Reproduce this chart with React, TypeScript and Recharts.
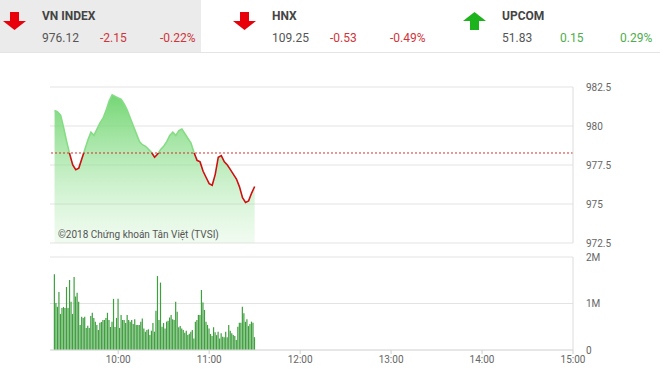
import React from 'react';
import { ComposedChart, Area, BarChart, Bar, XAxis, YAxis, CartesianGrid, ReferenceLine } from 'recharts';

// index summary strip
const indexNames = ['VN INDEX', 'HNX', 'UPCOM'];
const indexValues = ['976.12', '109.25', '51.83'];
const indexChanges = ['-2.15', '-0.53', '0.15'];
const indexPercents = ['-0.22%', '-0.49%', '0.29%'];

// VN-Index intraday, one point every 2 minutes from 9:18
const refPrice = 978.27;
const priceStartMin = 558;
const priceStepMin = 2;
const priceValues = [
  981.0, 980.9, 980.7, 979.9, 979.0, 978.2, 977.5, 977.2, 977.3, 977.9,
  978.5, 979.1, 979.6, 979.4, 979.8, 980.2, 980.5, 981.0, 981.6, 982.0,
  981.9, 981.8, 981.7, 981.4, 981.0, 980.5, 980.0, 979.5, 979.0, 978.8,
  978.7, 978.5, 978.3, 978.0, 978.2, 978.5, 978.7, 979.0, 979.4, 979.6,
  979.4, 979.7, 979.8, 979.5, 979.2, 978.9, 978.3, 977.8, 977.7, 977.1,
  976.7, 976.3, 976.2, 976.9, 978.0, 978.1, 977.7, 977.5, 977.2, 976.9,
  976.6, 976.1, 975.4, 975.1, 975.2, 975.7, 976.12,
];

// matched volume per minute (thousand shares) from 9:18
const volumeStartMin = 558;
const volumeValues = [
  1630, 1010, 930, 1250, 775, 905, 925, 905, 1355, 905,
  1505, 1040, 775, 1570, 1150, 1230, 1040, 540, 715, 690,
  715, 475, 520, 475, 730, 800, 690, 610, 540, 430,
  585, 600, 645, 645, 690, 800, 645, 495, 610, 1100,
  495, 690, 1100, 475, 755, 645, 645, 580, 755, 645,
  610, 645, 560, 660, 540, 540, 540, 610, 680, 465,
  390, 430, 445, 320, 415, 580, 395, 845, 1590, 645,
  1450, 500, 580, 465, 610, 630, 700, 755, 660, 645,
  1040, 825, 490, 515, 465, 430, 370, 415, 320, 350,
  395, 430, 250, 610, 645, 755, 755, 1290, 1020, 860,
  610, 540, 465, 345, 300, 490, 380, 320, 395, 250,
  360, 285, 275, 395, 275, 540, 415, 360, 320, 300,
  215, 500, 585, 585, 930, 790, 610, 660, 515, 560,
  610, 585, 275,
];

const timeTicks = [600, 660, 720, 780, 840, 900];
const priceTicks = [972.5, 975, 977.5, 980, 982.5];
const volumeTicks = [0, 1000, 2000];

const priceData = priceValues.map((v, i) => ({ t: priceStartMin + i * priceStepMin, price: v }));
const volumeData = volumeValues.map((v, i) => ({ t: volumeStartMin + i, vol: v }));

const fmtTime = (m: number) => `${Math.floor(m / 60)}:${String(m % 60).padStart(2, '0')}`;
const fmtVol = (v: number) => (v === 0 ? '0' : `${v / 1000}M`);

const pMax = Math.max(...priceValues);
const pMin = Math.min(...priceValues);
const splitOffset = (pMax - refPrice) / (pMax - pMin);

const tickStyle = { fill: '#666', fontSize: 10, fontFamily: 'Roboto, Arial, sans-serif' };

const Arrow = ({ up }: { up: boolean }) => (
  <svg width={23} height={18} style={{ position: 'absolute', left: 3, top: 12 }}>
    <path
      d={up ? 'M7 18 H16 V9 H23 L11.5 0 L0 9 H7 Z' : 'M7 0 H16 V9 H23 L11.5 18 L0 9 H7 Z'}
      fill={up ? '#1db31d' : '#e8000b'}
    />
  </svg>
);

export default function App() {
  return (
    <div
      style={{
        position: 'absolute',
        left: 0,
        top: 0,
        width: 660,
        height: 369,
        background: '#fff',
        fontFamily: 'Roboto, Arial, sans-serif',
        overflow: 'hidden',
      }}
    >
      {/* summary strip */}
      <div style={{ position: 'absolute', left: 0, top: 0, width: 201, height: 53, background: '#ebebeb' }} />
      <div style={{ position: 'absolute', left: 0, top: 52, width: 660, height: 1, background: '#e4e4e4' }} />
      {indexNames.map((name, i) => {
        const up = !indexChanges[i].startsWith('-');
        const color = up ? '#4cae4c' : '#d0343a';
        return (
          <div key={name} style={{ position: 'absolute', left: i * 230, top: 0, width: 230, height: 52 }}>
            <Arrow up={up} />
            <div style={{ position: 'absolute', left: 42, top: 9, fontSize: 12, fontWeight: 700, color: '#444' }}>{name}</div>
            <div style={{ position: 'absolute', left: 42, top: 31, fontSize: 12, color: '#555' }}>{indexValues[i]}</div>
            <div style={{ position: 'absolute', left: 100, top: 31, fontSize: 12, color }}>{indexChanges[i]}</div>
            <div style={{ position: 'absolute', left: 160, top: 31, fontSize: 12, color }}>{indexPercents[i]}</div>
          </div>
        );
      })}

      {/* price */}
      <div style={{ position: 'absolute', left: 0, top: 80 }}>
        <ComposedChart width={660} height={170} data={priceData} margin={{ top: 7, right: 0, bottom: 7, left: 50 }}>
          <defs>
            <linearGradient id="priceFill" x1="0" y1="0" x2="0" y2="1">
              <stop offset="0%" stopColor="#6cd46c" stopOpacity={0.95} />
              <stop offset="100%" stopColor="#b8ecb8" stopOpacity={0.2} />
            </linearGradient>
            <linearGradient id="priceStroke" x1="0" y1="0" x2="0" y2="1">
              <stop offset={splitOffset} stopColor="#86dc86" />
              <stop offset={splitOffset} stopColor="#cc1111" />
            </linearGradient>
          </defs>
          <CartesianGrid vertical={false} stroke="#e3e3e3" />
          <XAxis dataKey="t" type="number" domain={[555, 900]} ticks={timeTicks} hide />
          <YAxis
            orientation="right"
            domain={[972.5, 982.5]}
            ticks={priceTicks}
            width={87}
            axisLine={{ stroke: '#dcdcdc' }}
            tickLine={false}
            tickMargin={7}
            tick={tickStyle}
          />
          <Area
            type="linear"
            dataKey="price"
            stroke="url(#priceStroke)"
            strokeWidth={1.6}
            fill="url(#priceFill)"
            fillOpacity={1}
            dot={false}
            activeDot={false}
            isAnimationActive={false}
          />
          <ReferenceLine y={refPrice} stroke="#d23030" strokeDasharray="2 2" />
        </ComposedChart>
      </div>
      <div style={{ position: 'absolute', left: 58, top: 229, fontSize: 10, color: '#555', fontFamily: 'Roboto, Arial, sans-serif' }}>
        ©2018 Chứng khoán Tân Việt (TVSI)
      </div>

      {/* volume */}
      <div style={{ position: 'absolute', left: 0, top: 250 }}>
        <BarChart width={660} height={119} data={volumeData} margin={{ top: 7, right: 0, bottom: 0, left: 50 }}>
          <CartesianGrid vertical={false} stroke="#e3e3e3" />
          <XAxis
            dataKey="t"
            type="number"
            domain={[555, 900]}
            ticks={timeTicks}
            tickFormatter={fmtTime}
            height={19}
            axisLine={{ stroke: '#dcdcdc' }}
            tickLine={{ stroke: '#cfcfcf' }}
            tickSize={4}
            tickMargin={2}
            tick={tickStyle}
          />
          <YAxis
            orientation="right"
            domain={[0, 2000]}
            ticks={volumeTicks}
            tickFormatter={fmtVol}
            width={87}
            axisLine={{ stroke: '#dcdcdc' }}
            tickLine={false}
            tickMargin={7}
            tick={tickStyle}
          />
          <Bar dataKey="vol" fill="#3f9f3f" barSize={1.2} isAnimationActive={false} />
        </BarChart>
      </div>
    </div>
  );
}
